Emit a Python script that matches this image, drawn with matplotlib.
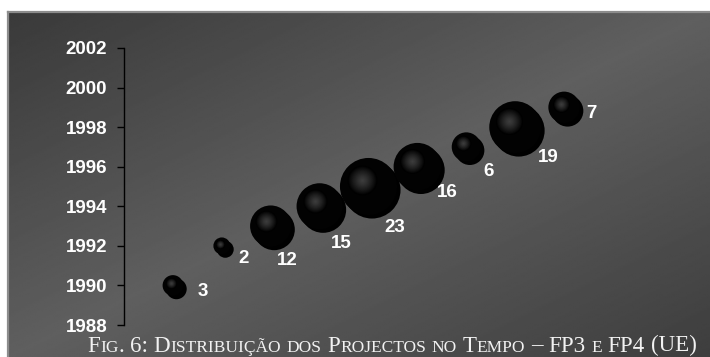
import numpy as np
import matplotlib
matplotlib.use("Agg")
import matplotlib.pyplot as plt
from matplotlib.transforms import offset_copy, IdentityTransform

# ---- data ----
years = [1990, 1992, 1993, 1994, 1995, 1996, 1997, 1998, 1999]
projects = [3, 2, 12, 15, 23, 16, 6, 19, 7]
positions = list(range(1, len(years) + 1))
y_ticks = [1988, 1990, 1992, 1994, 1996, 1998, 2000, 2002]
caption = "Fig. 6: Distribuição dos Projectos no Tempo – FP3 e FP4 (UE)"

# label offsets (pixels right, pixels down) from each bubble centre
label_offsets = [(30, 6), (22, 13), (17, 34), (22, 37), (26, 41),
                 (30, 26), (22, 25), (33, 30), (27, 6)]

W, H, DPI = 710, 357, 100
fig = plt.figure(figsize=(W / DPI, H / DPI), dpi=DPI)
fig.patch.set_facecolor("white")

# ---- gradient chart area ----
bg = fig.add_axes([8 / W, 0, (W - 8) / W, (H - 12) / H])
gx = np.linspace(0, 1, 400)
gy = np.linspace(0, 1, 200)
GX, GY = np.meshgrid(gx, gy)
t = (GX + GY) / 2.0
light, dark_a, dark_b = 0x5f / 255, 0x3a / 255, 0x3e / 255
tri = 1 - np.abs(2 * t - 1)
dark = np.where(t < 0.5, dark_a, dark_b)
level = dark + (light - dark) * tri
bg.imshow(level, cmap="gray", vmin=0, vmax=1, aspect="auto",
          extent=[0, 1, 1, 0], interpolation="bilinear")
bg.set_xlim(0, 1)
bg.set_ylim(1, 0)
bg.set_xticks([])
bg.set_yticks([])
for side in ("right", "bottom"):
    bg.spines[side].set_visible(False)
for side in ("left", "top"):
    bg.spines[side].set_color("#8c8c8c")
    bg.spines[side].set_linewidth(1.6)

# ---- bubble axes ----
ax = fig.add_axes([124 / W, (H - 325) / H, 489 / W, 277 / H])
ax.set_facecolor("none")
ax.set_xlim(0, 10)
ax.set_ylim(1988, 2002)
for side in ("top", "right", "bottom"):
    ax.spines[side].set_visible(False)
ax.spines["left"].set_color("black")
ax.spines["left"].set_linewidth(1.0)
ax.set_xticks([])
ax.set_yticks(y_ticks)
ax.set_yticklabels([str(v) for v in y_ticks])
ax.tick_params(axis="y", direction="out", length=5, width=1, color="black",
               pad=7, labelcolor="white", labelsize=13.5)
for lab in ax.get_yticklabels():
    lab.set_fontweight("bold")
    lab.set_family("Liberation Sans")

px2pt = 72.0 / DPI
k = 11.9  # pixels of diameter per sqrt(project count)
diam_px = [k * np.sqrt(v) for v in projects]

# drop shadow
shadow_tr = offset_copy(ax.transData, fig=fig, x=3.5 * px2pt, y=-3.5 * px2pt, units="points")
ax.scatter(positions, years, s=[(d * px2pt) ** 2 for d in diam_px], color="black",
           linewidths=0, transform=shadow_tr, zorder=2)
# sphere body
ax.scatter(positions, years, s=[(d * px2pt) ** 2 for d in diam_px], color="#020202",
           linewidths=0, zorder=3)
# soft highlight near the upper-left of each sphere
n_layers = 18
for x, y, d in zip(positions, years, diam_px):
    hl_tr = offset_copy(ax.transData, fig=fig, x=-0.11 * d * px2pt, y=0.12 * d * px2pt,
                        units="points")
    for j in range(n_layers):
        f = 1 - j / n_layers
        size = d * 0.52 * f
        g = 0.24 * (1 - f ** 1.3)
        ax.scatter([x], [y], s=(size * px2pt) ** 2, color=(g, g, g), linewidths=0,
                   transform=hl_tr, zorder=4)

# value labels
for x, y, v, (dx, dy) in zip(positions, years, projects, label_offsets):
    ax.annotate(str(v), (x, y), xytext=(dx * px2pt, -dy * px2pt), textcoords="offset points",
                ha="center", va="center", color="white", fontweight="bold",
                fontsize=13.5, family="Liberation Sans", zorder=6)

# ---- small-caps caption ----
renderer = fig.canvas.get_renderer()
big, small = 16.6, 12.5
cap_kw = dict(color="#f2f2f2", family="Liberation Serif", va="baseline", ha="left",
              transform=IdentityTransform())


def text_width(s, size):
    tt = fig.text(0, 0, s, fontsize=size, **cap_kw)
    w = tt.get_window_extent(renderer).width
    tt.remove()
    return w


space_w = text_width("x x", big) - text_width("xx", big)
cx, cy = 87.0, H - 351.5
for wi, word in enumerate(caption.split(" ")):
    if wi:
        cx += space_w
    runs = []
    for ch in word:
        low = ch.isalpha() and ch.islower()
        if runs and runs[-1][1] == low:
            runs[-1][0] += ch
        else:
            runs.append([ch, low])
    for run, low in runs:
        tt = fig.text(cx, cy, run.upper() if low else run, fontsize=small if low else big, **cap_kw)
        cx += tt.get_window_extent(renderer).width

fig.savefig("out.png", dpi=DPI)
